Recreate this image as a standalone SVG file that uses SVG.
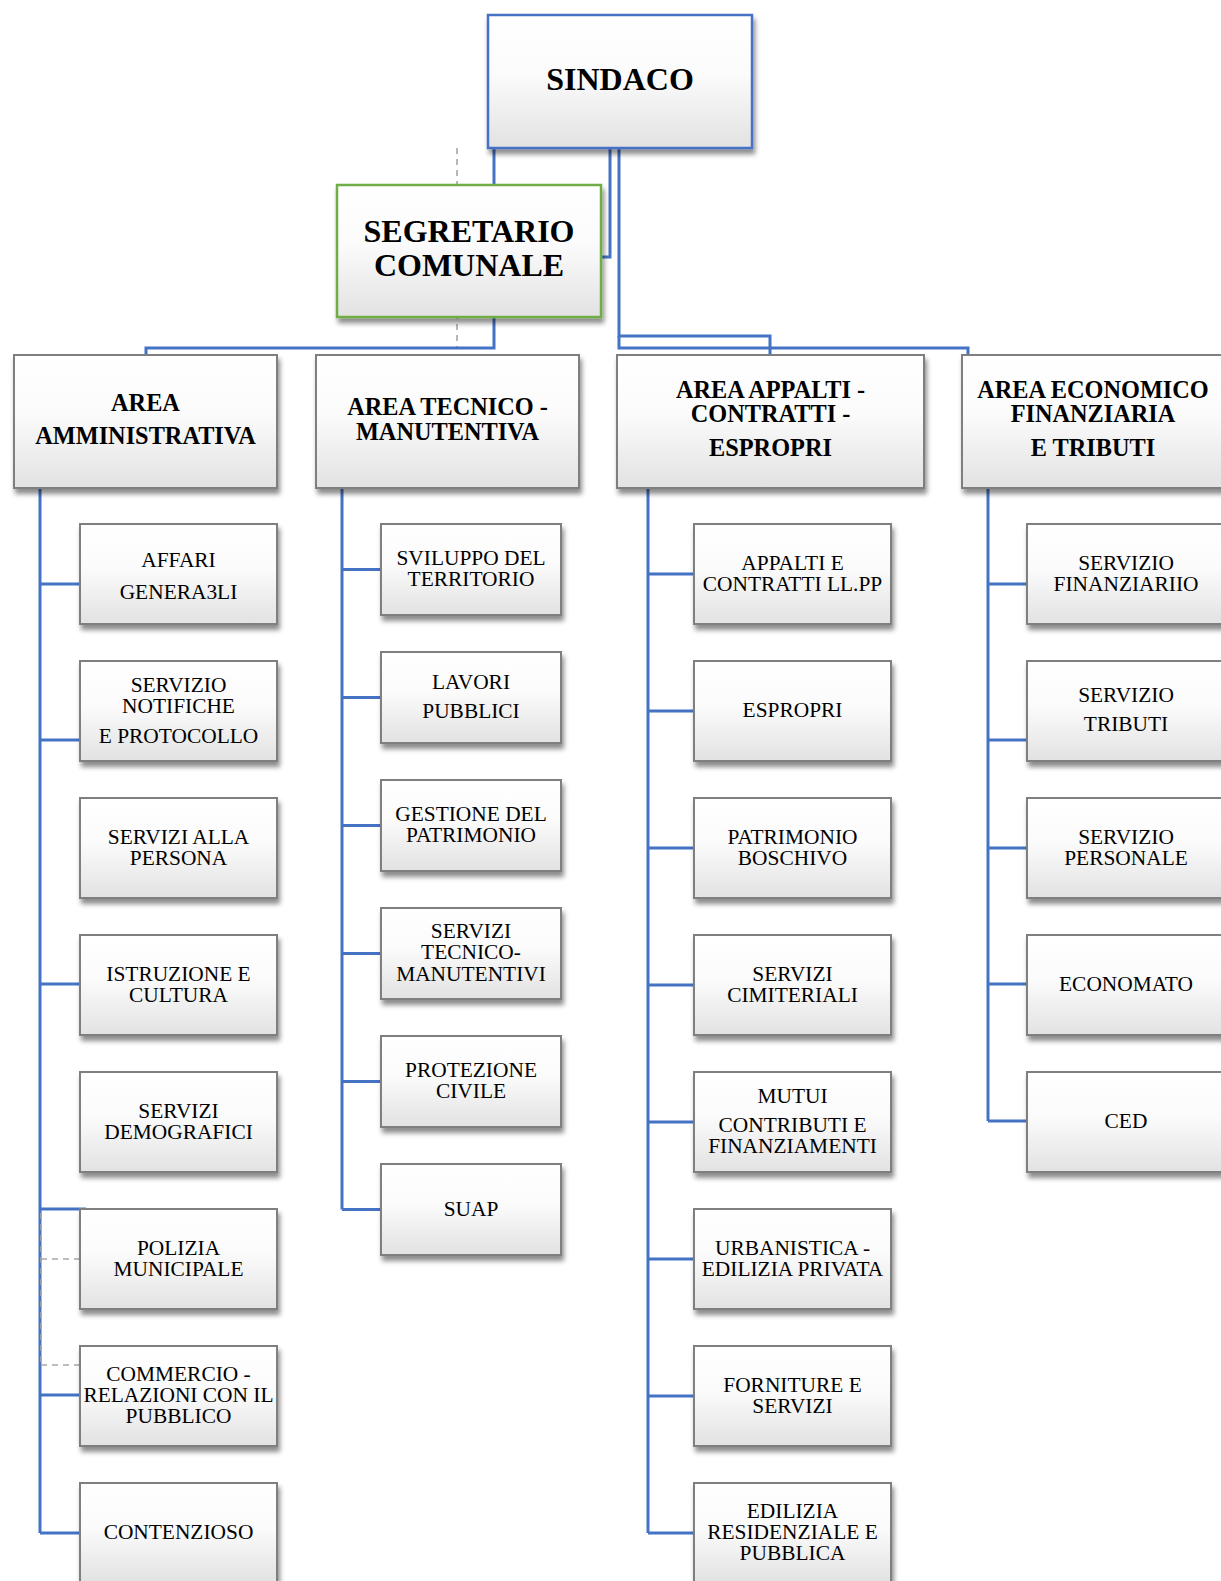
<svg xmlns="http://www.w3.org/2000/svg" width="1221" height="1581" viewBox="0 0 1221 1581">
<style>
.box{fill:url(#g);stroke:#7f7f7f;stroke-width:2;filter:url(#sh)}
.t{font-family:"Liberation Serif","Times New Roman",serif;font-size:21.4px;fill:#000;text-anchor:middle}
.b{font-family:"Liberation Serif","Times New Roman",serif;font-weight:bold;font-size:24.3px;fill:#000;text-anchor:middle}
.h{font-family:"Liberation Serif","Times New Roman",serif;font-weight:bold;font-size:32px;fill:#000;text-anchor:middle}
.c{fill:none;stroke:#4472C4;stroke-width:3}
.d{fill:none;stroke:#a6a6a6;stroke-width:1.6;stroke-dasharray:6 5}
</style>
<defs>
<linearGradient id="g" x1="0" y1="0" x2="0" y2="1">
<stop offset="0" stop-color="#ffffff"/>
<stop offset="0.45" stop-color="#fbfbfb"/>
<stop offset="1" stop-color="#e2e2e2"/>
</linearGradient>
<filter id="sh" x="-10%" y="-10%" width="125%" height="130%">
<feDropShadow dx="2" dy="5" stdDeviation="2.5" flood-color="#000" flood-opacity="0.45"/>
</filter>
</defs>
<rect width="1221" height="1581" fill="#fff"/>
<g id="connectors">
<path class="d" d="M457,148 V348"/>
<path class="c" d="M494,148 V184"/>
<path class="c" d="M494,318 V348 H146 V355"/>
<path class="c" d="M610,148 V257 H601"/>
<path class="c" d="M619,148 V336 H770 V355"/>
<path class="c" d="M619,336 V348 H968 V355"/>
<path class="c" d="M40,488 V1533 M40,584 H80 M40,740 H80 M40,984 H80 M40,1209 H86 M40,1395 H80 M40,1533 H80"/>
<path class="d" d="M41,1213 V1365 M41,1259 H80 M41,1365 H80"/>
<path class="c" d="M342,488 V1209.5 M342,569.5 H381 M342,697.5 H381 M342,825.5 H381 M342,953.5 H381 M342,1081.5 H381 M342,1209.5 H381"/>
<path class="c" d="M648,488 V1533 M648,574 H694 M648,711 H694 M648,848 H694 M648,985 H694 M648,1122 H694 M648,1259 H694 M648,1396 H694 M648,1533 H694"/>
<path class="c" d="M988,488 V1121 M988,584 H1027 M988,740 H1027 M988,848 H1027 M988,984 H1027 M988,1121 H1027"/>
</g>
<g id="sindaco"><rect class="box" x="488" y="15" width="264" height="133" style="stroke:#4472C4;stroke-width:2.5"/><text class="h" x="620" y="90">SINDACO</text></g>
<g id="segretario"><rect class="box" x="337" y="185" width="264" height="132" style="stroke:#70AD47;stroke-width:2.5"/><text class="h" x="469" y="242">SEGRETARIO</text><text class="h" x="469" y="276">COMUNALE</text></g>
<g id="area-amministrativa"><rect class="box" x="14" y="355" width="263" height="133"/><text class="b" x="145.5" y="411">AREA</text><text class="b" x="145.5" y="443.5">AMMINISTRATIVA</text></g>
<g id="area-tecnico"><rect class="box" x="316" y="355" width="263" height="133"/><text class="b" x="447.5" y="415">AREA TECNICO -</text><text class="b" x="447.5" y="439.5">MANUTENTIVA</text></g>
<g id="area-appalti"><rect class="box" x="617" y="355" width="307" height="133"/><text class="b" x="770.5" y="398">AREA APPALTI -</text><text class="b" x="770.5" y="422">CONTRATTI -</text><text class="b" x="770.5" y="455.5">ESPROPRI</text></g>
<g id="area-economico"><rect class="box" x="962" y="355" width="290" height="133"/><text class="b" x="1093" y="398">AREA ECONOMICO</text><text class="b" x="1093" y="422">FINANZIARIA</text><text class="b" x="1093" y="455.5">E TRIBUTI</text></g>

<g id="affari-generali"><rect class="box" x="80" y="524" width="197" height="100"/><text class="t" x="178.5" y="567">AFFARI</text><text class="t" x="178.5" y="599">GENERA3LI</text></g>
<g id="servizio-notifiche"><rect class="box" x="80" y="661" width="197" height="100"/><text class="t" x="178.5" y="692">SERVIZIO</text><text class="t" x="178.5" y="713">NOTIFICHE</text><text class="t" x="178.5" y="743">E PROTOCOLLO</text></g>
<g id="servizi-persona"><rect class="box" x="80" y="798" width="197" height="100"/><text class="t" x="178.5" y="844">SERVIZI ALLA</text><text class="t" x="178.5" y="865">PERSONA</text></g>
<g id="istruzione"><rect class="box" x="80" y="935" width="197" height="100"/><text class="t" x="178.5" y="981">ISTRUZIONE E</text><text class="t" x="178.5" y="1002">CULTURA</text></g>
<g id="demografici"><rect class="box" x="80" y="1072" width="197" height="100"/><text class="t" x="178.5" y="1118">SERVIZI</text><text class="t" x="178.5" y="1139">DEMOGRAFICI</text></g>
<g id="polizia"><rect class="box" x="80" y="1209" width="197" height="100"/><text class="t" x="178.5" y="1255">POLIZIA</text><text class="t" x="178.5" y="1276">MUNICIPALE</text></g>
<g id="commercio"><rect class="box" x="80" y="1346" width="197" height="100"/><text class="t" x="178.5" y="1381">COMMERCIO -</text><text class="t" x="178.5" y="1402">RELAZIONI CON IL</text><text class="t" x="178.5" y="1423">PUBBLICO</text></g>
<g id="contenzioso"><rect class="box" x="80" y="1483" width="197" height="100"/><text class="t" x="178.5" y="1538.5">CONTENZIOSO</text></g>

<g id="sviluppo"><rect class="box" x="381" y="524" width="180" height="91"/><text class="t" x="471" y="565">SVILUPPO DEL</text><text class="t" x="471" y="586">TERRITORIO</text></g>
<g id="lavori"><rect class="box" x="381" y="652" width="180" height="91"/><text class="t" x="471" y="689">LAVORI</text><text class="t" x="471" y="718">PUBBLICI</text></g>
<g id="gestione"><rect class="box" x="381" y="780" width="180" height="91"/><text class="t" x="471" y="821">GESTIONE DEL</text><text class="t" x="471" y="842">PATRIMONIO</text></g>
<g id="servizi-tecnico"><rect class="box" x="381" y="908" width="180" height="91"/><text class="t" x="471" y="938">SERVIZI</text><text class="t" x="471" y="959">TECNICO-</text><text class="t" x="471" y="981">MANUTENTIVI</text></g>
<g id="protezione"><rect class="box" x="381" y="1036" width="180" height="91"/><text class="t" x="471" y="1077">PROTEZIONE</text><text class="t" x="471" y="1098">CIVILE</text></g>
<g id="suap"><rect class="box" x="381" y="1164" width="180" height="91"/><text class="t" x="471" y="1216">SUAP</text></g>

<g id="appalti"><rect class="box" x="694" y="524" width="197" height="100"/><text class="t" x="792.5" y="570">APPALTI E</text><text class="t" x="792.5" y="591">CONTRATTI LL.PP</text></g>
<g id="espropri"><rect class="box" x="694" y="661" width="197" height="100"/><text class="t" x="792.5" y="717">ESPROPRI</text></g>
<g id="patrimonio-boschivo"><rect class="box" x="694" y="798" width="197" height="100"/><text class="t" x="792.5" y="844">PATRIMONIO</text><text class="t" x="792.5" y="865">BOSCHIVO</text></g>
<g id="cimiteriali"><rect class="box" x="694" y="935" width="197" height="100"/><text class="t" x="792.5" y="981">SERVIZI</text><text class="t" x="792.5" y="1002">CIMITERIALI</text></g>
<g id="mutui"><rect class="box" x="694" y="1072" width="197" height="100"/><text class="t" x="792.5" y="1103">MUTUI</text><text class="t" x="792.5" y="1132">CONTRIBUTI E</text><text class="t" x="792.5" y="1153">FINANZIAMENTI</text></g>
<g id="urbanistica"><rect class="box" x="694" y="1209" width="197" height="100"/><text class="t" x="792.5" y="1255">URBANISTICA -</text><text class="t" x="792.5" y="1276">EDILIZIA PRIVATA</text></g>
<g id="forniture"><rect class="box" x="694" y="1346" width="197" height="100"/><text class="t" x="792.5" y="1392">FORNITURE E</text><text class="t" x="792.5" y="1413">SERVIZI</text></g>
<g id="edilizia"><rect class="box" x="694" y="1483" width="197" height="100"/><text class="t" x="792.5" y="1517.5">EDILIZIA</text><text class="t" x="792.5" y="1538.5">RESIDENZIALE E</text><text class="t" x="792.5" y="1559.5">PUBBLICA</text></g>

<g id="finanziario"><rect class="box" x="1027" y="524" width="210" height="100"/><text class="t" x="1126" y="570">SERVIZIO</text><text class="t" x="1126" y="591">FINANZIARIIO</text></g>
<g id="tributi"><rect class="box" x="1027" y="661" width="210" height="100"/><text class="t" x="1126" y="702">SERVIZIO</text><text class="t" x="1126" y="731">TRIBUTI</text></g>
<g id="personale"><rect class="box" x="1027" y="798" width="210" height="100"/><text class="t" x="1126" y="844">SERVIZIO</text><text class="t" x="1126" y="865">PERSONALE</text></g>
<g id="economato"><rect class="box" x="1027" y="935" width="210" height="100"/><text class="t" x="1126" y="991">ECONOMATO</text></g>
<g id="ced"><rect class="box" x="1027" y="1072" width="210" height="100"/><text class="t" x="1126" y="1128">CED</text></g>
</svg>
